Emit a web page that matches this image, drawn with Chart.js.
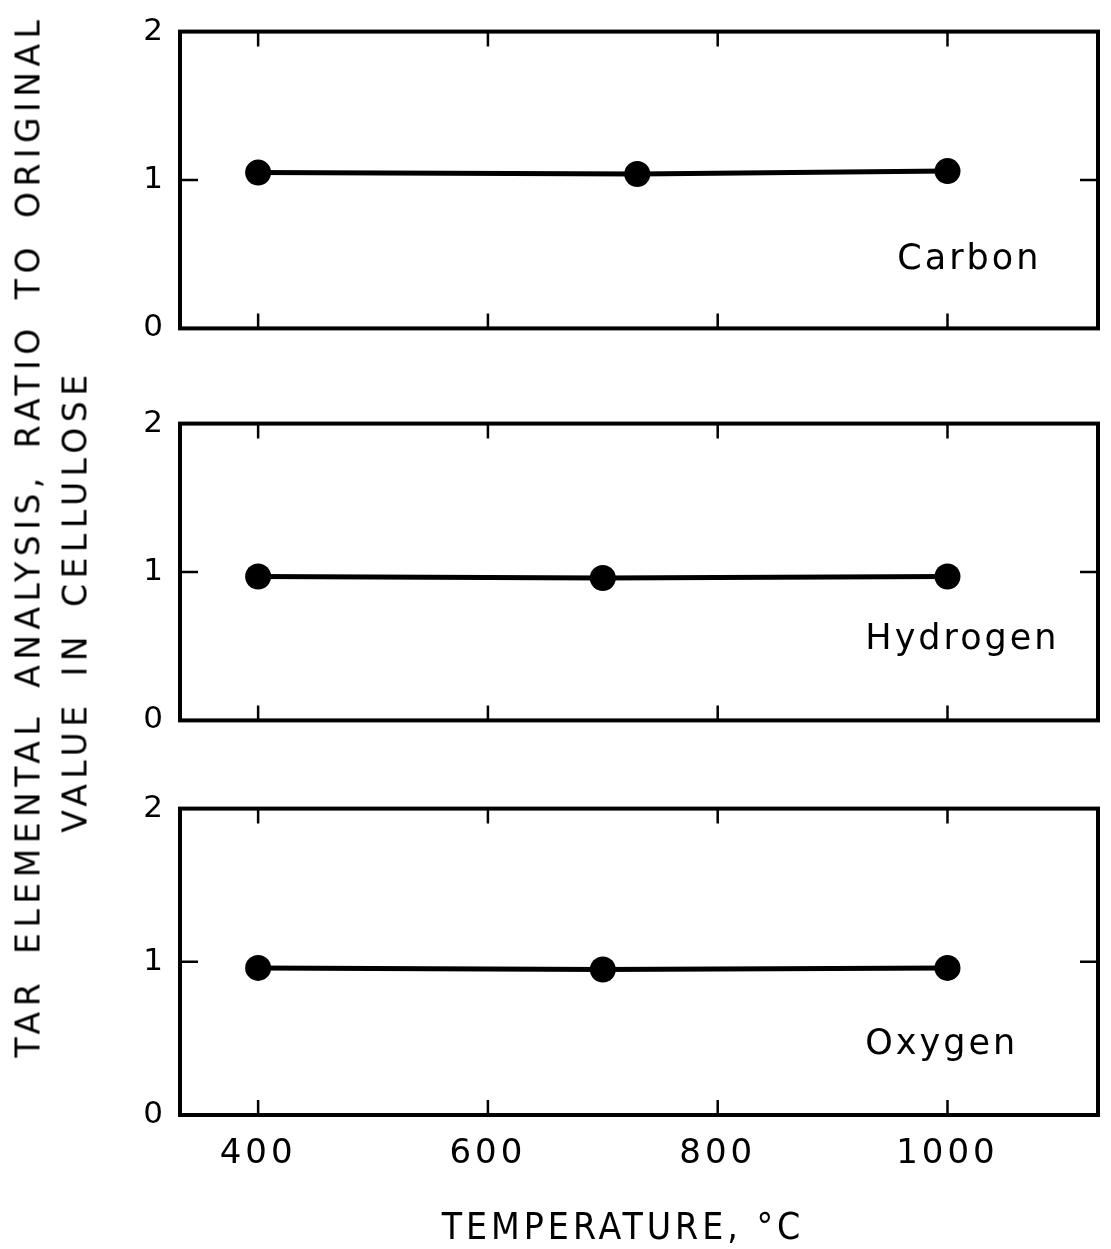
<!DOCTYPE html>
<html>
<head>
<meta charset="utf-8">
<title>Tar elemental analysis</title>
<script src="https://cdn.jsdelivr.net/npm/chart.js@4.4.0/dist/chart.umd.min.js"></script>
<style>
    body { margin: 0; background: #fff; }
    #page {
        position: relative;
        width: 1111px;
        height: 1249px;
        overflow: hidden;
        font-family: "DejaVu Sans", sans-serif;
        color: #000;
    }
    .panel { position: absolute; left: 0; width: 1111px; }
    .ytitle {
        position: absolute;
        white-space: nowrap;
        line-height: 1;
        font-size: 33px;
        letter-spacing: 5.5px;
        word-spacing: 8px;
        transform: translate(-50%, -50%) rotate(-90deg);
    }
    #xtitle {
        position: absolute;
        white-space: nowrap;
        line-height: 1;
        font-family: "DejaVu Sans Condensed", "DejaVu Sans", sans-serif;
        font-size: 37px;
        letter-spacing: 4px;
        transform: translate(-50%, -50%);
    }
</style>
</head>
<body>
<div id="page">
    <div class="panel" style="top:0px;height:360px"><canvas id="carbonChart"></canvas></div>
    <div class="panel" style="top:392px;height:360px"><canvas id="hydrogenChart"></canvas></div>
    <div class="panel" style="top:777px;height:472px"><canvas id="oxygenChart"></canvas></div>

    <div class="ytitle" style="left:28px;top:536px">TAR ELEMENTAL ANALYSIS, RATIO TO ORIGINAL</div>
    <div class="ytitle" style="left:75px;top:601px">VALUE IN CELLULOSE</div>
    <div id="xtitle" style="left:623px;top:1226px">TEMPERATURE, °C</div>
</div>

<script>
// data
const carbonTemp = [400, 730, 1000];
const carbonRatio = [1.05, 1.04, 1.06];
const hydrogenTemp = [400, 700, 1000];
const hydrogenRatio = [0.97, 0.96, 0.97];
const oxygenTemp = [400, 700, 1000];
const oxygenRatio = [0.96, 0.95, 0.96];

const xTicks = [400, 600, 800, 1000];
const yTicks = [0, 1, 2];
const elementNames = ['Carbon', 'Hydrogen', 'Oxygen'];

// axis ranges
const X_MIN = 332;
const X_MAX = 1131;

// box with inward ticks on all four sides + element name
const framePlugin = {
    id: 'frame',
    beforeDraw(chart) {
        chart.ctx.letterSpacing = '4px';
    },
    afterDatasetsDraw(chart, args, opts) {
        const ctx = chart.ctx;
        const a = chart.chartArea;
        const x = chart.scales.x;
        const y = chart.scales.y;

        ctx.save();
        ctx.strokeStyle = '#000';
        ctx.lineWidth = 4;
        ctx.strokeRect(a.left, a.top, a.right - a.left, a.bottom - a.top);

        ctx.lineWidth = 2.5;
        ctx.beginPath();
        xTicks.forEach(v => {
            const px = x.getPixelForValue(v);
            ctx.moveTo(px, a.bottom);
            ctx.lineTo(px, a.bottom - 15);
            ctx.moveTo(px, a.top);
            ctx.lineTo(px, a.top + 15);
        });
        yTicks.forEach(v => {
            const py = y.getPixelForValue(v);
            ctx.moveTo(a.left, py);
            ctx.lineTo(a.left + 18, py);
            ctx.moveTo(a.right, py);
            ctx.lineTo(a.right - 18, py);
        });
        ctx.stroke();

        ctx.letterSpacing = '3px';
        ctx.font = '35px "DejaVu Sans"';
        ctx.fillStyle = '#000';
        ctx.textAlign = 'center';
        ctx.textBaseline = 'middle';
        ctx.fillText(opts.text, x.getPixelForValue(opts.x), y.getPixelForValue(opts.y));
        ctx.restore();
    }
};

function makePanel(id, temps, ratios, name, labelPos, layout) {
    const ctx = document.getElementById(id).getContext('2d');
    return new Chart(ctx, {
        type: 'line',
        data: {
            datasets: [{
                label: name,
                data: temps.map((t, i) => ({ x: t, y: ratios[i] })),
                borderColor: '#000',
                backgroundColor: '#000',
                borderWidth: 5,
                pointRadius: 13,
                pointBackgroundColor: '#000',
                pointBorderWidth: 0,
                tension: 0
            }]
        },
        options: {
            responsive: true,
            maintainAspectRatio: false,
            animation: false,
            layout: {
                padding: { left: 0, right: 3, top: layout.padTop, bottom: 0 }
            },
            plugins: {
                legend: { display: false },
                tooltip: { enabled: false },
                frame: { text: name, x: labelPos[0], y: labelPos[1] }
            },
            scales: {
                x: {
                    type: 'linear',
                    min: X_MIN,
                    max: X_MAX,
                    grid: { display: false, drawTicks: false },
                    border: { display: false },
                    ticks: {
                        display: layout.showX,
                        color: '#000',
                        padding: 19,
                        font: { family: 'DejaVu Sans', size: 34 },
                        callback: v => String(v)
                    },
                    afterBuildTicks: axis => {
                        axis.ticks = xTicks.map(v => ({ value: v }));
                    },
                    afterFit: axis => {
                        axis.height = layout.xHeight;
                    }
                },
                y: {
                    min: 0,
                    max: 2,
                    grid: { display: false, drawTicks: false },
                    border: { display: false },
                    ticks: {
                        color: '#000',
                        padding: 13,
                        font: { family: 'DejaVu Sans', size: 31 },
                        callback: v => String(v)
                    },
                    afterBuildTicks: axis => {
                        axis.ticks = yTicks.map(v => ({ value: v }));
                    },
                    afterFit: axis => {
                        axis.width = 180;
                    }
                }
            }
        },
        plugins: [framePlugin]
    });
}

makePanel('carbonChart', carbonTemp, carbonRatio, elementNames[0], [1019, 0.46],
    { padTop: 29, xHeight: 26, showX: false });
makePanel('hydrogenChart', hydrogenTemp, hydrogenRatio, elementNames[1], [1013, 0.54],
    { padTop: 29, xHeight: 24, showX: false });
makePanel('oxygenChart', oxygenTemp, oxygenRatio, elementNames[2], [995, 0.455],
    { padTop: 29, xHeight: 134, showX: true });
</script>
</body>
</html>
